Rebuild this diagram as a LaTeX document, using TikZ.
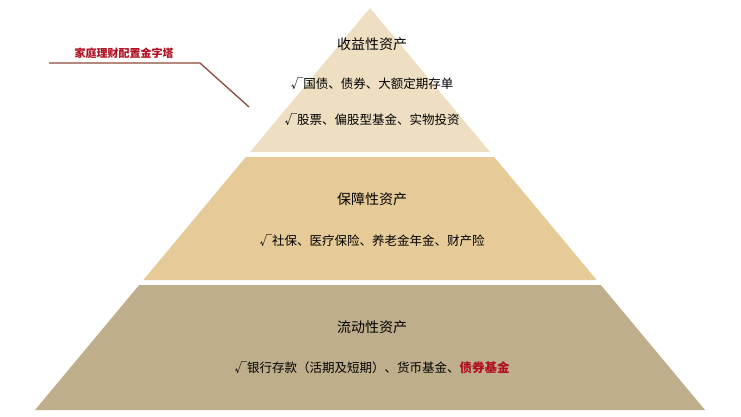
\documentclass[tikz,border=0pt]{standalone}
\usepackage{fontspec}
\setmainfont{Noto Sans CJK SC}
\definecolor{topc}{HTML}{EEDFC2}
\definecolor{midc}{HTML}{E6CB98}
\definecolor{botc}{HTML}{BFAE8C}
\definecolor{darkred}{HTML}{B01020}
\definecolor{linec}{HTML}{8B4A3A}
\begin{document}
\begin{tikzpicture}[x=1pt,y=-1pt,
  title/.style={font=\fontsize{14}{16}\selectfont},
  item/.style={font=\fontsize{12.5}{15}\selectfont}]
\useasboundingbox (0,0) rectangle (741,416);
\fill[white] (0,0) rectangle (741,416);
\fill[topc] (370,8) -- (490,152) -- (250,152) -- cycle;
\fill[midc] (245.8,157) -- (494.2,157) -- (596.7,280) -- (143.3,280) -- cycle;
\fill[botc] (139.2,285) -- (600.8,285) -- (705,410) -- (35,410) -- cycle;
\node[title] (t1) at (372,44) {收益性资产};
\node[item] (a1) at (372,84) {√国债、债券、大额定期存单};
\node[item] (a2) at (372,120) {√股票、偏股型基金、实物投资};
\node[title] (t2) at (372,199) {保障性资产};
\node[item] (b1) at (372,241) {√社保、医疗保险、养老金年金、财产险};
\node[title] (t3) at (372,327) {流动性资产};
\node[item] (c1) at (372,368) {√银行存款（活期及短期）、货币基金、\textcolor{darkred}{\bfseries 债券基金}};
\node[font=\fontsize{11}{13}\selectfont\bfseries,text=darkred] (lab) at (124,53) {家庭理财配置金字塔};
\coordinate (k1) at (49,63);
\coordinate (k2) at (200,63);
\coordinate (k3) at (249,107);
\draw[linec,line width=1.3pt] (k1) -- (k2) -- (k3);
\end{tikzpicture}
\end{document}
